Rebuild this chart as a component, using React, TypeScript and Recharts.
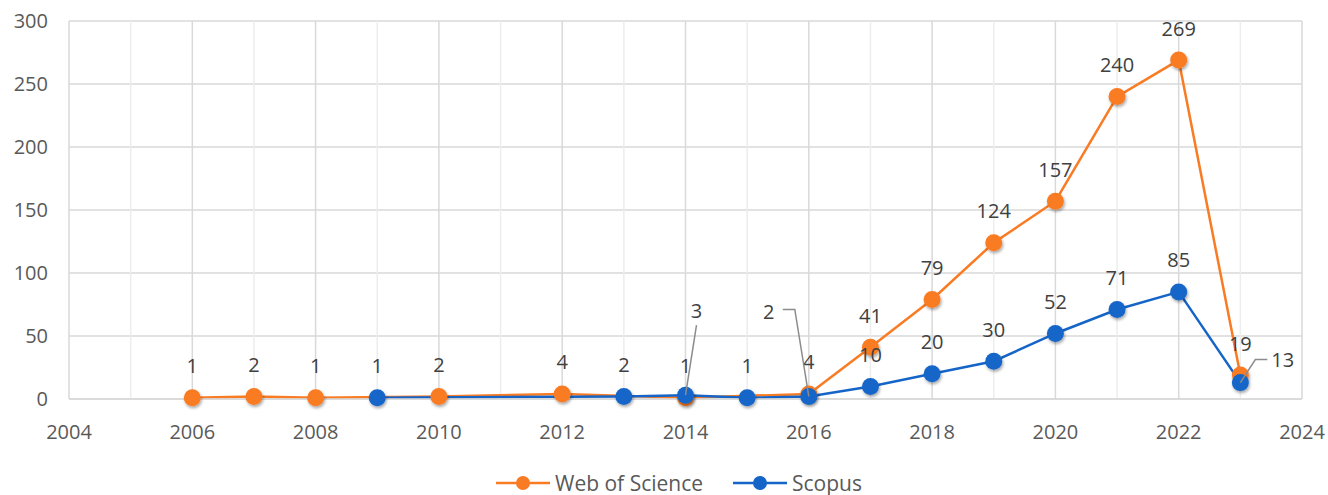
import React from 'react';
import {
  LineChart,
  Line,
  XAxis,
  YAxis,
  CartesianGrid,
  ReferenceLine,
  LabelList,
  Legend,
} from 'recharts';

const wosYears = [2006, 2007, 2008, 2010, 2012, 2014, 2016, 2017, 2018, 2019, 2020, 2021, 2022, 2023];
const wosCounts = [1, 2, 1, 2, 4, 1, 4, 41, 79, 124, 157, 240, 269, 19];

const scopusYears = [2009, 2013, 2014, 2015, 2016, 2017, 2018, 2019, 2020, 2021, 2022, 2023];
const scopusCounts = [1, 2, 3, 1, 2, 10, 20, 30, 52, 71, 85, 13];

const xTicks = [2004, 2006, 2008, 2010, 2012, 2014, 2016, 2018, 2020, 2022, 2024];
const yTicks = [0, 50, 100, 150, 200, 250, 300];
const gridYears = Array.from({ length: 21 }, (_, i) => 2004 + i);

const ORANGE = '#F97B24';
const BLUE = '#1565C8';
const FONT = '"Open Sans", sans-serif';

const wosData = wosYears.map((year, i) => ({ year, value: wosCounts[i] }));
const scopusData = scopusYears.map((year, i) => ({ year, value: scopusCounts[i] }));

const makeDot = (color: string) => (props: any) => {
  const { cx, cy, index } = props;
  if (cx == null || cy == null) return <g key={index} />;
  return <circle key={index} cx={cx} cy={cy} r={8.5} fill={color} filter="url(#dotShadow)" />;
};

const topLabel = (props: any) => {
  const { x, y, value, index } = props;
  return (
    <text
      key={index}
      x={x}
      y={y - 32}
      textAnchor="middle"
      dominantBaseline="central"
      fontSize={20}
      fontFamily={FONT}
      fill="#404040"
    >
      {value}
    </text>
  );
};

// Scopus labels that Excel moved aside, with leader lines
const scopusLabel = (props: any) => {
  const { x, y, value, index } = props;
  const year = scopusYears[index];
  const txt = (tx: number, ty: number, anchor: string = 'middle') => (
    <text
      x={tx}
      y={ty}
      textAnchor={anchor as any}
      dominantBaseline="central"
      fontSize={20}
      fontFamily={FONT}
      fill="#404040"
    >
      {value}
    </text>
  );
  if (year === 2014) {
    return (
      <g key={index}>
        <path d={`M${x + 11},${y - 70} L${x},${y}`} stroke="#8C8C8C" strokeWidth={1.5} fill="none" />
        {txt(x + 11, y - 85)}
      </g>
    );
  }
  if (year === 2016) {
    return (
      <g key={index}>
        <path d={`M${x - 26},${y - 87} L${x - 14},${y - 87} L${x},${y}`} stroke="#8C8C8C" strokeWidth={1.5} fill="none" />
        {txt(x - 40, y - 85)}
      </g>
    );
  }
  if (year === 2023) {
    return (
      <g key={index}>
        <path d={`M${x + 27},${y - 23} L${x + 15},${y - 23} L${x},${y}`} stroke="#8C8C8C" strokeWidth={1.5} fill="none" />
        {txt(x + 31, y - 23, 'start')}
      </g>
    );
  }
  return <g key={index}>{txt(x, y - 32)}</g>;
};

const legendItems = [
  { name: 'Web of Science', color: ORANGE },
  { name: 'Scopus', color: BLUE },
];

const renderLegend = () => (
  <div
    style={{
      height: 66,
      display: 'flex',
      justifyContent: 'center',
      alignItems: 'flex-end',
      paddingLeft: 56,
      boxSizing: 'border-box',
      fontFamily: FONT,
      fontSize: 21,
      color: '#595959',
    }}
  >
    {legendItems.map((it) => (
      <div key={it.name} style={{ display: 'flex', alignItems: 'center', margin: '0 15px', height: 24 }}>
        <svg width={54} height={20} style={{ marginRight: 5 }}>
          <line x1={0} y1={10} x2={54} y2={10} stroke={it.color} strokeWidth={2.5} />
          <circle cx={27} cy={10} r={7} fill={it.color} />
        </svg>
        <span>{it.name}</span>
      </div>
    ))}
  </div>
);

export default function App() {
  return (
    <div style={{ position: 'absolute', left: 0, top: 0, width: 1328, height: 495, background: '#fff' }}>
      <LineChart width={1328} height={495} margin={{ top: 21, right: 26, bottom: 0, left: 0 }}>
        <defs>
          <filter id="dotShadow" x="-50%" y="-50%" width="200%" height="200%">
            <feDropShadow dx={1} dy={2} stdDeviation={1.5} floodColor="#000" floodOpacity={0.35} />
          </filter>
        </defs>
        <CartesianGrid vertical={false} stroke="#D9D9D9" strokeWidth={1.5} />
        {gridYears.map((yr) => (
          <ReferenceLine
            key={yr}
            x={yr}
            stroke={yr % 2 === 0 ? '#D9D9D9' : '#EDEDED'}
            strokeWidth={1.5}
          />
        ))}
        <XAxis
          type="number"
          dataKey="year"
          domain={[2004, 2024]}
          ticks={xTicks}
          allowDuplicatedCategory={false}
          height={30}
          tickLine={false}
          tickMargin={20}
          axisLine={{ stroke: '#D9D9D9', strokeWidth: 1.5 }}
          tick={{ fontSize: 20, fill: '#595959', fontFamily: FONT }}
        />
        <YAxis
          type="number"
          domain={[0, 300]}
          ticks={yTicks}
          width={69}
          tickLine={false}
          axisLine={false}
          tickMargin={15}
          tick={{ fontSize: 20, fill: '#595959', fontFamily: FONT }}
        />
        <Legend verticalAlign="bottom" content={renderLegend} />
        <Line
          data={wosData}
          dataKey="value"
          name="Web of Science"
          stroke={ORANGE}
          strokeWidth={2.5}
          dot={makeDot(ORANGE)}
          activeDot={false}
          isAnimationActive={false}
        >
          <LabelList dataKey="value" content={topLabel} />
        </Line>
        <Line
          data={scopusData}
          dataKey="value"
          name="Scopus"
          stroke={BLUE}
          strokeWidth={2.5}
          dot={makeDot(BLUE)}
          activeDot={false}
          isAnimationActive={false}
        >
          <LabelList dataKey="value" content={scopusLabel} />
        </Line>
      </LineChart>
    </div>
  );
}
